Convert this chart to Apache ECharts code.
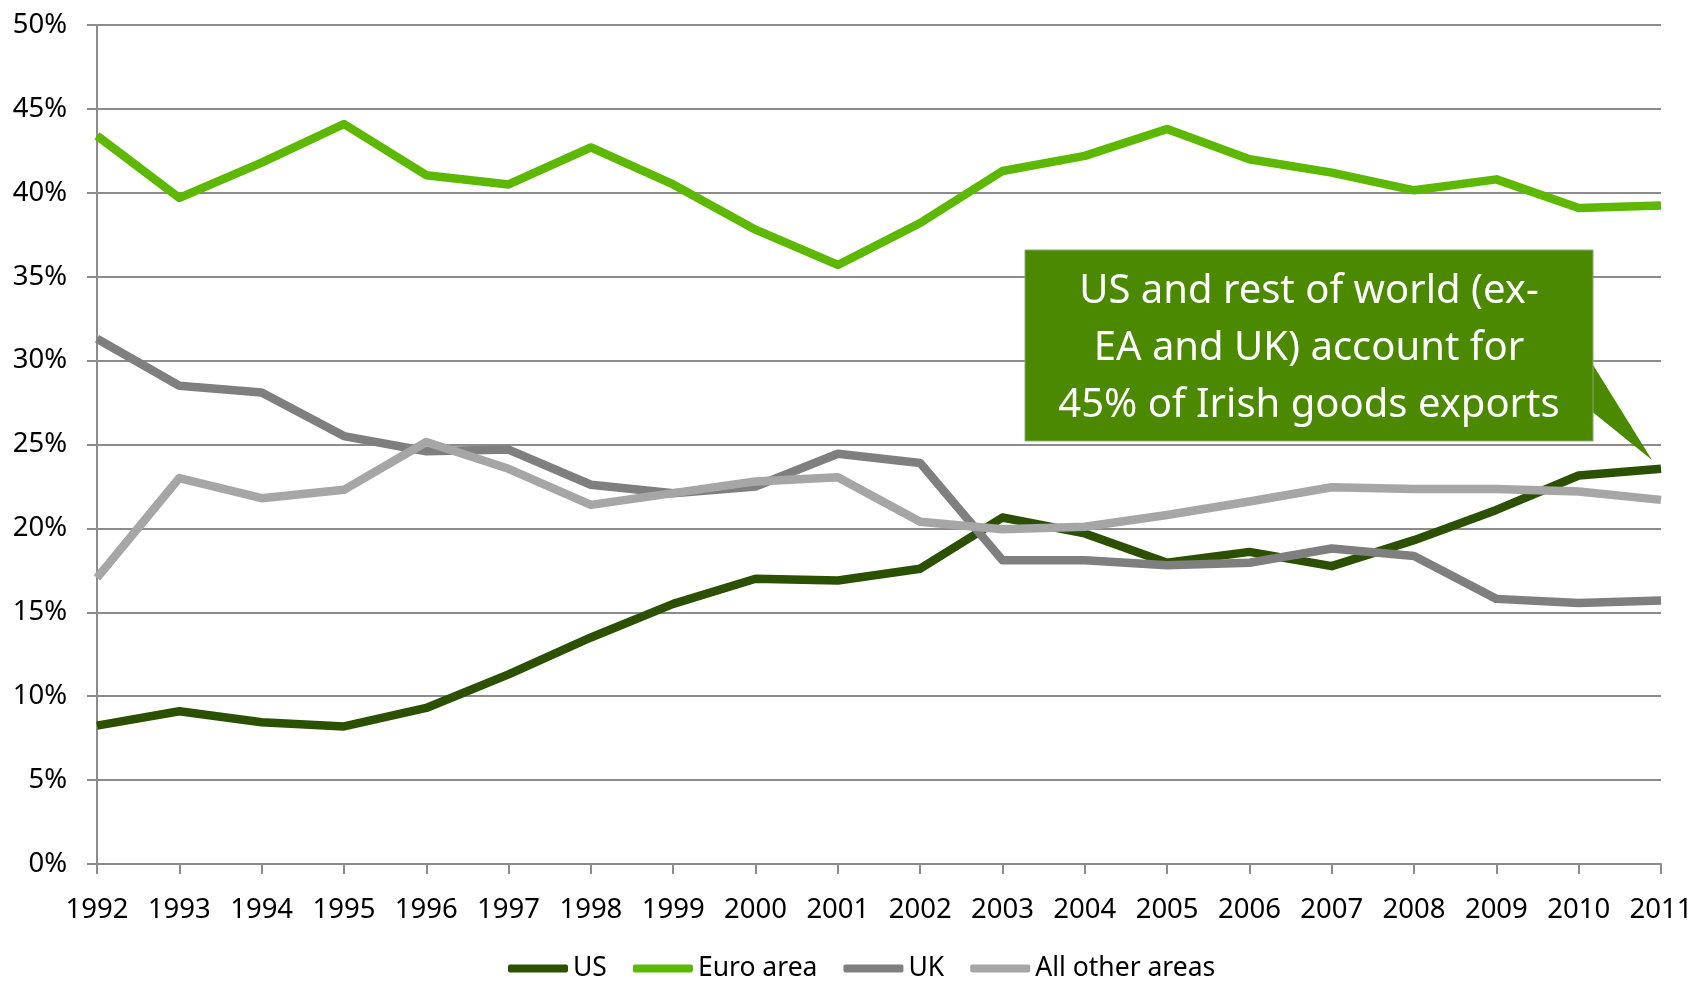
<!DOCTYPE html>
<html>
<head>
<meta charset="utf-8">
<script src="https://cdn.jsdelivr.net/npm/echarts@6/dist/echarts.min.js"></script>
<style>
  html, body { margin: 0; padding: 0; background: #fff; }
  #chart { width: 1696px; height: 982px; }
</style>
</head>
<body>
<div id="chart"></div>
<script>
// Parts des exportations irlandaises de biens, en %
const years = ['1992', '1993', '1994', '1995', '1996', '1997', '1998', '1999', '2000', '2001',
               '2002', '2003', '2004', '2005', '2006', '2007', '2008', '2009', '2010', '2011'];

const us = [8.25, 9.1, 8.45, 8.2, 9.3, 11.3, 13.5, 15.5, 17.0, 16.9,
            17.6, 20.65, 19.7, 17.95, 18.6, 17.75, 19.3, 21.1, 23.15, 23.55];
const euroArea = [43.4, 39.7, 41.8, 44.1, 41.05, 40.5, 42.7, 40.5, 37.8, 35.7,
                  38.2, 41.3, 42.2, 43.8, 42.0, 41.2, 40.15, 40.8, 39.1, 39.25];
const uk = [31.3, 28.5, 28.1, 25.5, 24.6, 24.7, 22.6, 22.1, 22.5, 24.45,
            23.9, 18.1, 18.1, 17.8, 17.95, 18.8, 18.35, 15.8, 15.55, 15.7];
const otherAreas = [17.05, 23.0, 21.8, 22.3, 25.15, 23.55, 21.4, 22.1, 22.8, 23.05,
                    20.4, 19.95, 20.1, 20.8, 21.6, 22.45, 22.35, 22.35, 22.2, 21.7];

const seriesNames = ['US', 'Euro area', 'UK', 'All other areas'];
const calloutText = 'US and rest of world (ex-\nEA and UK) account for\n45% of Irish goods exports';

const FONT = 'Noto Sans';
const gridColor = '#8c8c8c';

function line(name, data, color) {
    return {
        name: name,
        type: 'line',
        data: data,
        symbol: 'none',
        lineStyle: { width: 8.5, color: color, cap: 'butt', join: 'round' },
        itemStyle: { color: color }
    };
}

const chart = echarts.init(document.getElementById('chart'));

chart.setOption({
    animation: false,
    textStyle: { fontFamily: FONT },
    grid: { left: 97, right: 35, top: 25, bottom: 118, containLabel: false },
    legend: {
        bottom: -5,
        left: 503,
        icon: 'roundRect',
        itemWidth: 60,
        itemHeight: 8,
        itemGap: 26,
        itemTextGap: 2,
        textStyle: { fontFamily: FONT, fontSize: 26.5, color: '#000' },
        data: seriesNames
    },
    xAxis: {
        type: 'category',
        data: years,
        boundaryGap: false,
        axisLine: { lineStyle: { color: gridColor, width: 2 } },
        axisTick: { show: true, length: 10, lineStyle: { color: gridColor, width: 2 } },
        axisLabel: { fontSize: 27.5, color: '#000', margin: 32, fontFamily: FONT }
    },
    yAxis: {
        type: 'value',
        min: 0,
        max: 50,
        interval: 5,
        axisLine: { show: true, lineStyle: { color: gridColor, width: 2 } },
        axisTick: { show: true, length: 10, lineStyle: { color: gridColor, width: 2 } },
        splitLine: { lineStyle: { color: gridColor, width: 2 } },
        axisLabel: { formatter: '{value}%', fontSize: 27.5, color: '#000', margin: 30, fontFamily: FONT }
    },
    series: [
        line(seriesNames[0], us, '#2b5000'),
        line(seriesNames[1], euroArea, '#5cb800'),
        line(seriesNames[2], uk, '#7f7f7f'),
        line(seriesNames[3], otherAreas, '#a6a6a6')
    ],
    graphic: [
        {
            type: 'polygon',
            shape: { points: [[1590, 360], [1590, 410], [1652, 460]] },
            style: { fill: '#4b8a00' },
            z: 100
        },
        {
            type: 'rect',
            shape: { x: 1025, y: 250, width: 568, height: 191 },
            style: { fill: '#4b8a00', stroke: '#8aa878', lineWidth: 1 },
            z: 101
        },
        {
            type: 'text',
            x: 1309,
            y: 349,
            style: {
                text: calloutText,
                fill: '#fff',
                fontFamily: FONT,
                fontSize: 40,
                lineHeight: 57,
                align: 'center',
                verticalAlign: 'middle'
            },
            z: 102
        }
    ]
});

window.addEventListener('resize', () => chart.resize());
</script>
</body>
</html>
